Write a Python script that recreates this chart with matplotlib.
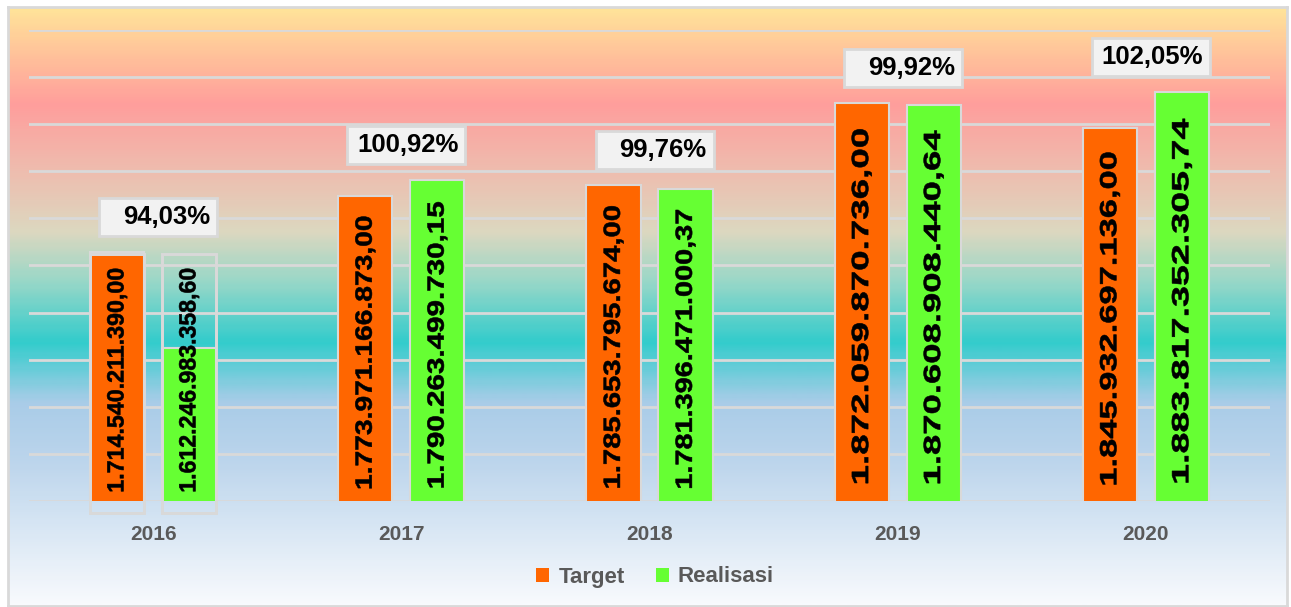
import numpy as np
import matplotlib
matplotlib.use("Agg")
import matplotlib.pyplot as plt
from matplotlib.colors import LinearSegmentedColormap
from matplotlib.font_manager import FontProperties
from matplotlib.textpath import TextPath
from matplotlib.patches import PathPatch, Rectangle
from matplotlib.transforms import Affine2D, IdentityTransform

# data (rupiah)
years = ["2016", "2017", "2018", "2019", "2020"]
target = [1714540211390.00, 1773971166873.00, 1785653795674.00,
          1872059870736.00, 1845932697136.00]
realisasi = [1612246983358.60, 1790263499730.15, 1781396471000.37,
             1870608908440.64, 1883817352305.74]
persen = [94.03, 100.92, 99.76, 99.92, 102.05]

W, H = 1291, 607
C_T = "#FF6600"
C_R = "#66FF33"
GRID = "#D9D9D9"
bold = FontProperties(family="Liberation Sans", weight="bold")


def rp(v):
    s = f"{v:,.2f}"
    return s.replace(",", "_").replace(".", ",").replace("_", ".")


fig = plt.figure(figsize=(W / 100, H / 100), dpi=100)

# gradient background inside a thin grey frame
bg = fig.add_axes([8 / W, 1 / H, 1279 / W, 599 / H], zorder=-5)
stops = [(0.0, "#FFE399"), (0.16, "#FF9E9C"), (0.28, "#EDBFB0"),
         (0.375, "#DCD8C0"), (0.46, "#97D7C8"), (0.56, "#33CCCC"),
         (0.66, "#A9CCE8"), (0.76, "#BCD5EC"), (1.0, "#F8FAFD")]
cmap = LinearSegmentedColormap.from_list("bg", stops)
bg.imshow(np.linspace(0, 1, 300)[:, None], aspect="auto", cmap=cmap,
          extent=[0, 1, 0, 1])
bg.set_xticks([])
bg.set_yticks([])
for s in bg.spines.values():
    s.set_color(GRID)
    s.set_linewidth(2)

ax = fig.add_axes([29 / W, (H - 501) / H, 1241 / W, 471 / H])
ax.patch.set_alpha(0)
x = np.arange(len(years))
t_b = np.array(target) / 1e9
r_b = np.array(realisasi) / 1e9
off, bw = 0.145, 0.218

ax.bar(x - off, t_b, bw, color=C_T, edgecolor=GRID, linewidth=1.5, label="Target", zorder=3)
ax.bar(x + off, r_b, bw, color=C_R, edgecolor=GRID, linewidth=1.5, label="Realisasi", zorder=3)

ax.set_xlim(-0.5, len(years) - 0.5)
ax.set_ylim(1450, 1950)
ax.set_yticks(np.arange(1450, 1951, 50))
ax.yaxis.grid(True, color=GRID, linewidth=2)
ax.set_axisbelow(True)
ax.tick_params(left=False, labelleft=False, bottom=False)
for s in ax.spines.values():
    s.set_visible(False)
ax.set_xticks(x)
ax.set_xticklabels(years, fontproperties=bold, fontsize=15, color="#595959")
ax.tick_params(axis="x", pad=14)

# vertical value labels, stretched to fill their bars
to_px = ax.transData.transform
base_px = to_px((0, 1450))[1]
for i in range(len(years)):
    for xc, v, vb in [(x[i] - off, target[i], t_b[i]), (x[i] + off, realisasi[i], r_b[i])]:
        px_x, top = to_px((xc, vb))
        h = top - base_px
        box_h = max(h, 250)
        if h < 250:
            for xo in (x[i] - off, x[i] + off):
                l = to_px((xo - bw / 2, 0))[0]
                r = to_px((xo + bw / 2, 0))[0]
                fig.add_artist(Rectangle((l, base_px - 12), r - l, box_h + 12 - 3,
                                         transform=IdentityTransform(), fill=False,
                                         edgecolor=GRID, linewidth=2, zorder=4))
        tp = TextPath((0, 0), rp(v), size=23.5, prop=bold)
        bb = tp.get_extents()
        length = 0.89 * box_h
        tr = (Affine2D().translate(-(bb.x0 + bb.x1) / 2, -(bb.y0 + bb.y1) / 2)
              .scale(length / bb.width, 1.0).rotate_deg(90)
              .translate(px_x, base_px + box_h / 2 - 4))
        fig.add_artist(PathPatch(tp, transform=tr, facecolor="black",
                                 edgecolor="black", linewidth=0.4, zorder=5))

# percentage boxes above each pair
for i in range(len(years)):
    cx = to_px((x[i], 0))[0] + 5
    top = to_px((0, max(t_b[i], r_b[i])))[1]
    cy = top + 35
    fig.add_artist(Rectangle((cx - 59, cy - 19), 118, 38, transform=IdentityTransform(),
                             facecolor="#F2F2F2", edgecolor=GRID, linewidth=2, zorder=5))
    fig.text((cx + 52) / W, cy / H, f"{persen[i]:.2f}".replace(".", ",") + "%",
             ha="right", va="center", fontproperties=bold, fontsize=18.5,
             color="black", zorder=6)

fig.legend(loc="center", bbox_to_anchor=(655 / W, (H - 577) / H), ncol=2,
           frameon=False, prop=FontProperties(family="Liberation Sans", weight="bold", size=16),
           labelcolor="#595959", handlelength=0.6, handleheight=0.6,
           handletextpad=0.4, columnspacing=1.4)
for hdl in fig.legends[0].legend_handles:
    hdl.set_edgecolor("none")

fig.savefig("out.png", dpi=100)
